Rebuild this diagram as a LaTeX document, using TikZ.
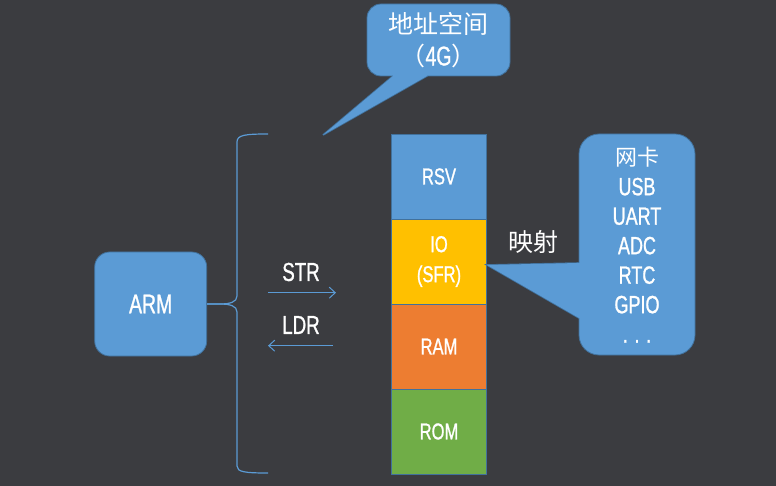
\documentclass[tikz,border=0pt]{standalone}
\usepackage{fontspec}
\setmainfont{Liberation Sans}[FakeStretch=0.72,FakeBold=1]
\newfontfamily\cjk{Noto Sans CJK SC}
\usetikzlibrary{arrows.meta}
\definecolor{bg}{HTML}{3B3C40}
\definecolor{cblue}{HTML}{5B9BD5}
\definecolor{cborder}{HTML}{41719C}
\definecolor{cyellow}{HTML}{FFC000}
\definecolor{corange}{HTML}{ED7D31}
\definecolor{cgreen}{HTML}{70AD47}
\begin{document}
\begin{tikzpicture}[x=1pt,y=-1pt,
  blk/.style={draw=cborder, line width=0.8pt, minimum width=95pt, minimum height=85pt,
    inner sep=0pt, text=white, align=center, font=\fontsize{23}{30}\selectfont},
  armbox/.style={fill=cblue, draw=cborder, line width=0.8pt, rounded corners=15pt,
    minimum width=112pt, minimum height=104pt, text=white, font=\fontsize{27}{30}\selectfont},
  callout/.style={fill=cblue, draw=cborder, line width=0.8pt, inner sep=0pt, text=white, align=center},
  ptrline/.style={draw=cborder, line width=1.6pt, line join=miter},
  lbl/.style={text=white, inner sep=0pt, font=\fontsize{26}{28}\selectfont},
  bus/.style={draw=cblue, line width=1pt, -{Straight Barb[length=6pt,width=11pt]}},
  bracel/.style={draw=cblue, line width=1.2pt}
]
\useasboundingbox[fill=bg] (0,0) rectangle (776,486);

% memory stack
\node[blk, fill=cblue]   (rsv) at (439,176.5) {RSV};
\node[blk, fill=cyellow] (io)  at (439,261.5) {IO\\(SFR)};
\node[blk, fill=corange] (ram) at (439,346.5) {RAM};
\node[blk, fill=cgreen]  (rom) at (439,431.5) {ROM};

% ARM
\node[armbox] (arm) at (150.7,304) {ARM};

% brace
\coordinate (bt) at (268,134);
\coordinate (bb) at (268,473);
\draw[bracel] (bt) .. controls (245,134) and (237,135) .. (237,142) -- (237,296)
  .. controls (237,302) and (230,304) .. (220,304) -- (arm.east);
\draw[bracel] (arm.east) -- (220,304) .. controls (230,304) and (237,306) .. (237,312)
  -- (237,466) .. controls (237,472) and (245,473) .. (bb);

% STR / LDR
\node[lbl] (str) at (301,272) {STR};
\node[lbl] (ldr) at (301,325) {LDR};
\coordinate (s1) at (268,292.7);
\coordinate (s2) at (336,292.7);
\coordinate (l1) at (333,345.7);
\coordinate (l2) at (268,345.7);
\draw[bus] (s1) -- (s2);
\draw[bus] (l1) -- (l2);

% top callout
\path[ptrline] (323,135) -- (393,76) -- (393,68) -- (427,68) -- (427,76) -- cycle;
\node[callout, rounded corners=14pt, minimum width=143pt, minimum height=72pt,
  font=\cjk\fontsize{25}{32}\selectfont] (addr) at (438.5,40) {地址空间\\（{\rmfamily\fontsize{27}{32}\selectfont 4G}）};
\fill[cblue] (323,135) -- (393,76) -- (393,68) -- (427,68) -- (427,76) -- cycle;

% right callout
\path[ptrline] (487,265) -- (579,263) -- (587,263) -- (587,318) -- (579,318) -- cycle;
\node[callout, rounded corners=20pt, minimum width=116pt, minimum height=221pt] (dev) at (637,244.5) {};
\fill[cblue] (487,265) -- (579,263) -- (587,263) -- (587,318) -- (579,318) -- cycle;
\node[text=white, align=center, font=\fontsize{25}{29.5}\selectfont] (devtxt) at (637,245)
  {{\cjk\fontsize{22}{29.5}\selectfont 网卡}\\USB\\UART\\ADC\\RTC\\GPIO\\. . .};

% mapping label
\node[text=white, inner sep=0pt, font=\cjk\fontsize{25}{30}\selectfont] (map) at (533,242) {映射};
\end{tikzpicture}
\end{document}
